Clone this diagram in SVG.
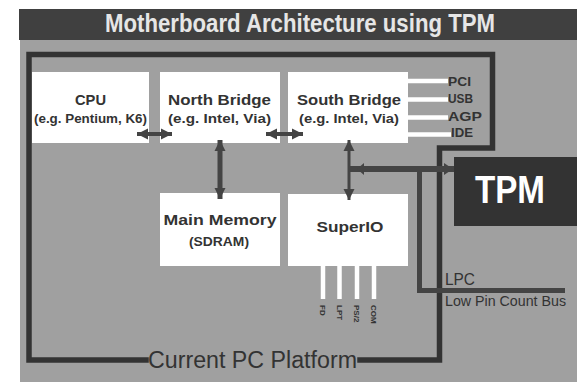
<svg xmlns="http://www.w3.org/2000/svg" width="577" height="382" viewBox="0 0 577 382">
  <style>
    .box { fill: #ffffff; }
    .frame { fill: none; stroke: #333333; stroke-width: 5.5; stroke-linejoin: miter; stroke-linecap: square; }
    .conn { fill: none; stroke: #444444; }
    .wire { fill: none; stroke: #ffffff; stroke-width: 4.5; }
    .t { font-family: "Liberation Sans", Arial, sans-serif; fill: #333333; }
    .b { font-weight: bold; }
    .head { fill: #444444; }
  </style>
  <defs>
    <marker id="ah" viewBox="0 0 10 10" refX="10" refY="5" markerWidth="11" markerHeight="12" markerUnits="userSpaceOnUse" orient="auto-start-reverse">
      <path d="M0,0 L10,5 L0,10 z" fill="#444444"/>
    </marker>
  </defs>

  <!-- background -->
  <rect x="0" y="0" width="577" height="382" fill="#ffffff"/>
  <rect x="20" y="40" width="557" height="342" fill="#a0a0a0"/>

  <g id="title">
    <rect x="19" y="9" width="558" height="31" fill="#404040"/>
    <text x="105" y="32" class="t b" font-size="25" fill="#e6e6e6" style="fill:#e6e6e6" textLength="390" lengthAdjust="spacingAndGlyphs">Motherboard Architecture using TPM</text>
  </g>

  <g id="platform">
    <path class="frame" d="M146,360 L29,360 L29,54.5 L492.5,54.5 L492.5,148 L439.5,148 L439.5,360 L360,360"/>
    <text x="148" y="368" class="t" font-size="23" textLength="209" lengthAdjust="spacingAndGlyphs">Current PC Platform</text>
  </g>

  <g id="cpu">
    <rect class="box" x="32" y="72" width="117" height="71"/>
    <text x="90.5" y="105" class="t b" font-size="15" text-anchor="middle" textLength="31" lengthAdjust="spacingAndGlyphs">CPU</text>
    <text x="90.5" y="123" class="t b" font-size="12" text-anchor="middle" textLength="113" lengthAdjust="spacingAndGlyphs">(e.g. Pentium, K6)</text>
  </g>

  <g id="northbridge">
    <rect class="box" x="160" y="72" width="120" height="71"/>
    <text x="219.5" y="105" class="t b" font-size="15" text-anchor="middle" textLength="103" lengthAdjust="spacingAndGlyphs">North Bridge</text>
    <text x="219.5" y="123" class="t b" font-size="12" text-anchor="middle" textLength="103" lengthAdjust="spacingAndGlyphs">(e.g. Intel, Via)</text>
  </g>

  <g id="southbridge">
    <rect class="box" x="288" y="72" width="120" height="71"/>
    <text x="349" y="105" class="t b" font-size="15" text-anchor="middle" textLength="104" lengthAdjust="spacingAndGlyphs">South Bridge</text>
    <text x="349" y="123" class="t b" font-size="12" text-anchor="middle" textLength="100" lengthAdjust="spacingAndGlyphs">(e.g. Intel, Via)</text>
  </g>

  <g id="mainmemory">
    <rect class="box" x="160" y="193" width="120" height="73"/>
    <text x="220" y="225" class="t b" font-size="15" text-anchor="middle" textLength="113" lengthAdjust="spacingAndGlyphs">Main Memory</text>
    <text x="219" y="246" class="t b" font-size="13" text-anchor="middle" textLength="60" lengthAdjust="spacingAndGlyphs">(SDRAM)</text>
  </g>

  <g id="superio">
    <rect class="box" x="288" y="194" width="120" height="72"/>
    <text x="350" y="232" class="t b" font-size="15" text-anchor="middle" textLength="67" lengthAdjust="spacingAndGlyphs">SuperIO</text>
  </g>

  <g id="tpm">
    <rect x="454" y="157" width="123" height="69" fill="#333333"/>
    <text x="510" y="203" class="t b" font-size="38" text-anchor="middle" style="fill:#ffffff" textLength="70" lengthAdjust="spacingAndGlyphs">TPM</text>
  </g>

  <g id="connectors">
    <!-- CPU <-> North Bridge -->
    <line class="conn" x1="137" y1="134" x2="172" y2="134" stroke-width="4" marker-start="url(#ah)" marker-end="url(#ah)"/>
    <!-- North Bridge <-> South Bridge -->
    <line class="conn" x1="266" y1="134" x2="303" y2="134" stroke-width="4" marker-start="url(#ah)" marker-end="url(#ah)"/>
    <!-- North Bridge <-> Main Memory -->
    <line class="conn" x1="220" y1="140" x2="220" y2="199" stroke-width="5" marker-start="url(#ah)" marker-end="url(#ah)"/>
    <!-- South Bridge <-> SuperIO -->
    <line class="conn" x1="349" y1="140" x2="349" y2="200" stroke-width="3" marker-start="url(#ah)" marker-end="url(#ah)"/>
    <!-- bus to TPM -->
    <line class="conn" x1="349" y1="169" x2="454" y2="169" stroke-width="6"/>
    <path class="head" d="M357,169 L364,163 L364,175 z"/>
    <path class="head" d="M453,169 L444,163 L444,175 z"/>
    <!-- LPC bus -->
    <path class="conn" d="M419.5,169 L419.5,290.5 L565,290.5" stroke-width="5"/>
    <!-- South Bridge outputs -->
    <line class="wire" x1="408" y1="81" x2="448" y2="81"/>
    <line class="wire" x1="408" y1="99.5" x2="448" y2="99.5"/>
    <line class="wire" x1="408" y1="117.5" x2="448" y2="117.5"/>
    <line class="wire" x1="408" y1="134.5" x2="451" y2="134.5"/>
    <!-- SuperIO outputs -->
    <line class="wire" x1="323" y1="266" x2="323" y2="299" stroke-width="5"/>
    <line class="wire" x1="339.5" y1="266" x2="339.5" y2="299" stroke-width="5"/>
    <line class="wire" x1="357" y1="266" x2="357" y2="299" stroke-width="5"/>
    <line class="wire" x1="374" y1="266" x2="374" y2="299" stroke-width="5"/>
  </g>

  <g id="labels">
    <text x="448" y="86" class="t b" font-size="12" textLength="23" lengthAdjust="spacingAndGlyphs">PCI</text>
    <text x="448" y="103" class="t b" font-size="12" textLength="25" lengthAdjust="spacingAndGlyphs">USB</text>
    <text x="448" y="121" class="t b" font-size="12" textLength="34" lengthAdjust="spacingAndGlyphs">AGP</text>
    <text x="451" y="137" class="t b" font-size="12" textLength="22" lengthAdjust="spacingAndGlyphs">IDE</text>
    <text x="445" y="285" class="t" font-size="16" textLength="30" lengthAdjust="spacingAndGlyphs">LPC</text>
    <text x="445" y="306" class="t" font-size="14.5" textLength="121" lengthAdjust="spacingAndGlyphs">Low Pin Count Bus</text>
    <text transform="translate(320,305) rotate(90)" class="t b" font-size="8">FD</text>
    <text transform="translate(336.5,305) rotate(90)" class="t b" font-size="8">LPT</text>
    <text transform="translate(354,305) rotate(90)" class="t b" font-size="8">PS/2</text>
    <text transform="translate(371,305) rotate(90)" class="t b" font-size="8">COM</text>
  </g>
</svg>
